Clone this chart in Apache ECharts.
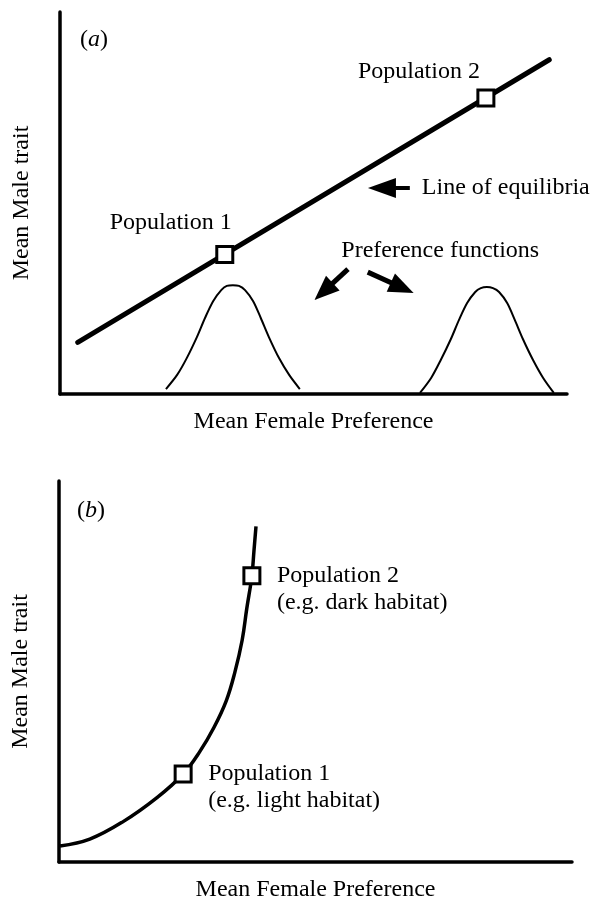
<!DOCTYPE html>
<html>
<head>
<meta charset="utf-8">
<script src="https://cdn.jsdelivr.net/npm/echarts@6/dist/echarts.min.js"></script>
<style>
  html, body { margin: 0; padding: 0; background: #fff; }
  #chart { width: 602px; height: 903px; }
</style>
</head>
<body>
<div id="chart"></div>
<script>
// ---------- data (arbitrary units, 0..10 on both axes) ----------
// Panel (a)
const axisTitleX = 'Mean Female Preference';
const axisTitleY = 'Mean Male trait';
const lineOfEquilibria = [[0.35, 1.35], [9.65, 8.75]];
const prefFunction1 = [[2.09,0.13],[2.31,0.50],[2.50,0.94],[2.70,1.49],[2.86,1.99],[3.02,2.43],[3.18,2.72],[3.29,2.83],[3.41,2.85],[3.53,2.83],[3.65,2.72],[3.81,2.43],[3.96,1.99],[4.12,1.49],[4.32,0.94],[4.52,0.50],[4.73,0.13]];
const prefFunction2 = [[7.10,0.03],[7.32,0.42],[7.51,0.89],[7.71,1.44],[7.87,1.94],[8.03,2.38],[8.19,2.67],[8.30,2.77],[8.42,2.80],[8.54,2.77],[8.66,2.67],[8.82,2.38],[8.97,1.94],[9.13,1.44],[9.33,0.89],[9.53,0.42],[9.74,0.03]];
const populationsA = [[3.25, 3.65], [8.40, 7.75]];
const populationNamesA = ['Population 1', 'Population 2'];
// arrows: [from, to(head centre)]
const arrowEquilibria = [[6.90, 5.39], [6.35, 5.39]];
const arrowPref1 = [[5.68, 3.27], [5.20, 2.68]];
const arrowPref2 = [[6.07, 3.19], [6.75, 2.78]];
const textEquilibria = 'Line of equilibria';
const textPref = 'Preference functions';

// Panel (b)
const curveB = [[0.02,0.42],[0.60,0.60],[1.25,1.06],[1.91,1.69],[2.42,2.31],[2.75,2.91],[3.02,3.53],[3.26,4.23],[3.43,4.99],[3.57,5.82],[3.66,6.65],[3.76,7.51],[3.80,8.16],[3.84,8.81]];
const populationsB = [[2.42, 2.31], [3.76, 7.51]];
const populationNamesB = ['Population 1\n(e.g. light habitat)', 'Population 2\n(e.g. dark habitat)'];

// ---------- styling ----------
const FONT = 'Liberation Serif';
const BLACK = '#000';
const textStyle = { fontFamily: FONT, fontSize: 24, color: BLACK };

function xAxisCfg(gridIndex) {
  return {
    type: 'value', gridIndex, min: 0, max: 10,
    axisLine: { show: true, onZero: false, lineStyle: { color: BLACK, width: 3.5 } },
    axisTick: { show: false }, axisLabel: { show: false }, splitLine: { show: false },
    name: axisTitleX, nameLocation: 'middle', nameGap: 16, nameTextStyle: textStyle
  };
}
function yAxisCfg(gridIndex) {
  return {
    type: 'value', gridIndex, min: 0, max: 10,
    axisLine: { show: true, onZero: false, lineStyle: { color: BLACK, width: 3.5 } },
    axisTick: { show: false }, axisLabel: { show: false }, splitLine: { show: false },
    name: axisTitleY, nameLocation: 'middle', nameGap: 26, nameRotate: 90, nameTextStyle: textStyle
  };
}

const squareStyle = { color: '#fff', borderColor: BLACK, borderWidth: 3, opacity: 1 };
const richPanel = {
  p: { fontFamily: FONT, fontSize: 24, fill: BLACK },
  i: { fontFamily: FONT, fontSize: 24, fontStyle: 'italic', fill: BLACK }
};

const option = {
  animation: false,
  backgroundColor: '#fff',
  grid: [
    { left: 60, top: 12, width: 507, height: 382 },
    { left: 59, top: 481, width: 513, height: 385 }
  ],
  xAxis: [xAxisCfg(0), xAxisCfg(1)],
  yAxis: [yAxisCfg(0), yAxisCfg(1)],
  series: [
    {
      type: 'line', xAxisIndex: 0, yAxisIndex: 0, data: lineOfEquilibria,
      symbol: 'none', lineStyle: { color: BLACK, width: 5, cap: 'round' }, silent: true, z: 2,
      markLine: {
        silent: true, animation: false,
        symbol: ['none', 'triangle'],
        label: { show: false },
        lineStyle: { type: 'solid', color: BLACK, width: 4 },
        data: [
          [{ coord: arrowEquilibria[0], symbolSize: 1 }, { coord: arrowEquilibria[1], symbolSize: [20, 28] }],
          [{ coord: arrowPref1[0], symbolSize: 1, lineStyle: { width: 5 } }, { coord: arrowPref1[1], symbolSize: [20, 25] }],
          [{ coord: arrowPref2[0], symbolSize: 1, lineStyle: { width: 5 } }, { coord: arrowPref2[1], symbolSize: [20, 25] }]
        ]
      }
    },
    {
      type: 'line', xAxisIndex: 0, yAxisIndex: 0, data: prefFunction1, smooth: 0.3,
      symbol: 'none', lineStyle: { color: BLACK, width: 2 }, silent: true
    },
    {
      type: 'line', xAxisIndex: 0, yAxisIndex: 0, data: prefFunction2, smooth: 0.3,
      symbol: 'none', lineStyle: { color: BLACK, width: 2 }, silent: true
    },
    {
      type: 'scatter', xAxisIndex: 0, yAxisIndex: 0, z: 5, silent: true,
      symbol: 'rect', symbolSize: 16, itemStyle: squareStyle,
      data: populationsA.map((v, i) => ({
        value: v, name: populationNamesA[i],
        label: { show: true, position: 'inside', formatter: '{b}', align: 'center', verticalAlign: 'middle',
          offset: i === 0 ? [-54, -32] : [-67, -26], opacity: 1, ...textStyle }
      }))
    },
    {
      type: 'line', xAxisIndex: 1, yAxisIndex: 1, data: curveB, smooth: 0.4,
      symbol: 'none', lineStyle: { color: BLACK, width: 3.5 }, silent: true
    },
    {
      type: 'scatter', xAxisIndex: 1, yAxisIndex: 1, z: 5, silent: true,
      symbol: 'rect', symbolSize: 16, itemStyle: squareStyle,
      data: populationsB.map((v, i) => ({
        value: v, name: populationNamesB[i],
        label: { show: true, position: 'inside', formatter: '{b}', align: 'left', verticalAlign: 'top',
          offset: [25, -13.5], lineHeight: 27, opacity: 1, ...textStyle }
      }))
    }
  ]
};

const chart = echarts.init(document.getElementById('chart'), null, { renderer: 'canvas' });
chart.setOption(option);
// free-standing annotation texts anchored to data coordinates
const pEq = chart.convertToPixel({ gridIndex: 0 }, arrowEquilibria[0]);
const pPref = chart.convertToPixel({ gridIndex: 0 }, [7.50, 3.76]);
const txt = (x, y, text, align) => ({
  type: 'text', x, y,
  style: { text, fill: BLACK, fontFamily: FONT, fontSize: 24, align: align || 'left', verticalAlign: 'middle', rich: richPanel }
});
chart.setOption({
  graphic: [
    txt(80, 40, '{p|(}{i|a}{p|)}'),
    txt(77, 511, '{p|(}{i|b}{p|)}'),
    txt(pEq[0] + 12, pEq[1], textEquilibria),
    txt(pPref[0], pPref[1], textPref, 'center')
  ]
});
</script>
</body>
</html>
